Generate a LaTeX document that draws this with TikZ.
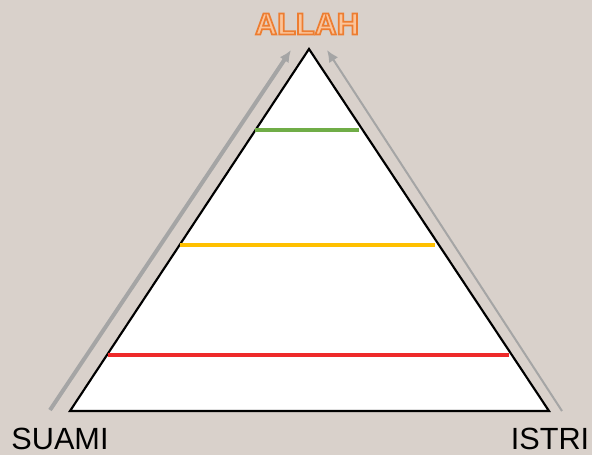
\documentclass[tikz,border=0pt]{standalone}
\usepackage{fontspec}
\setmainfont{Liberation Sans}
\usetikzlibrary{arrows.meta}
\definecolor{Paper}{HTML}{D9D1CB}
\definecolor{Pointer}{HTML}{A5A5A5}
\definecolor{Leaf}{HTML}{70AD47}
\definecolor{Sun}{HTML}{FFC000}
\definecolor{Flame}{HTML}{EE2A2A}
\definecolor{Peach}{HTML}{FBC49A}
\newcommand{\outlined}[1]{{\color{Peach}\special{pdf:literal direct 0.929 0.490 0.192 RG 2 Tr 1.3 w}#1\special{pdf:literal direct 0 Tr 0.4 w}}}

\begin{document}
\begin{tikzpicture}[x=0.75pt,y=-0.75pt,
      word/.style={font=\fontsize{23}{23}\selectfont,inner sep=0pt},
      tier/.style={line width=3pt},
      arr/.style={-{Latex[length=9pt,width=8pt]},draw=Pointer}]
      \fill[Paper] (0,0) rectangle (592,455);
      \useasboundingbox (0,0) rectangle (592,455);
      % pyramid
      \coordinate (top) at (309,49);
      \coordinate (bl) at (70,411);
      \coordinate (br) at (549,411);
      \draw[fill=white,line width=1.6pt] (top) -- (bl) -- (br) -- cycle;
      \draw[tier,draw=Leaf] (255,130) -- (359,130);
      \draw[tier,draw=Sun] (180,245) -- (435,245);
      \draw[tier,draw=Flame] (108,355) -- (509,355);
      % side arrows
      \coordinate (ls) at (50,410);
      \coordinate (le) at (291,50);
      \coordinate (rs) at (562,411);
      \coordinate (re) at (327,50);
      \draw[arr,line width=3pt] (ls) -- (le);
      \draw[arr,line width=1.5pt] (rs) -- (re);
      \node[word] (suami) at (60,439) {SUAMI};
      \node[word] (istri) at (550,439) {ISTRI};
      \node[word,font=\fontsize{23}{23}\selectfont\bfseries] (allah) at (307,24) {\outlined{ALLAH}};
    \end{tikzpicture}
\end{document}
